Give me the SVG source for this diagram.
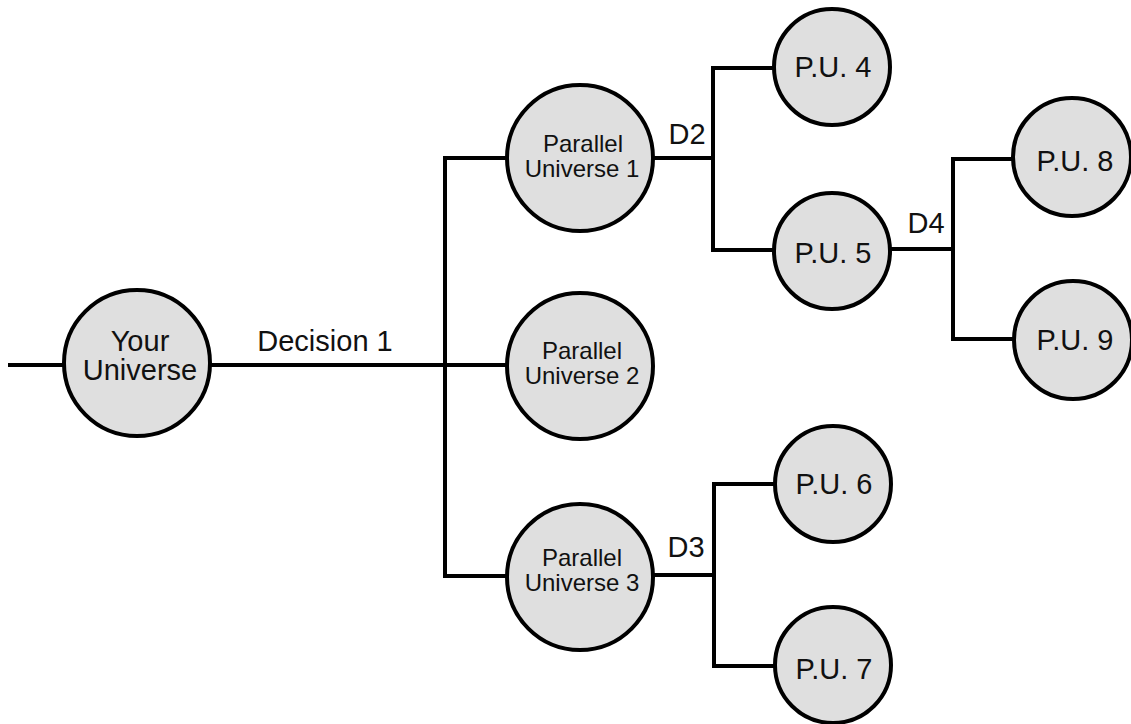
<svg xmlns="http://www.w3.org/2000/svg" width="1131" height="724" viewBox="0 0 1131 724">
<style>
.c{fill:#dfdfdf;stroke:#000;stroke-width:4}
.w{fill:none;stroke:#000;stroke-width:4;stroke-linecap:square}
text{font-family:"Liberation Sans",Arial,sans-serif;fill:#111;text-anchor:middle}
.b{font-size:24px}
.m{font-size:29px}
</style>
<rect width="1131" height="724" fill="#fff"/>
<g id="connectors">
<path class="w" d="M10,365 H70 M205,365 H510"/>
<path class="w" d="M445,158 V576 M445,158 H510 M445,576 H510"/>
<path class="w" d="M650,158 H713 M713,68 V250 M713,68 H780 M713,250 H780"/>
<path class="w" d="M650,575 H714 M714,484 V666 M714,484 H780 M714,666 H780"/>
<path class="w" d="M885,249 H953 M953,159 V339 M953,159 H1020 M953,339 H1020"/>
</g>
<g id="labels">
<text class="m" x="325" y="351">Decision 1</text>
<text class="m" x="687" y="144">D2</text>
<text class="m" x="686" y="557">D3</text>
<text class="m" x="926" y="233">D4</text>
</g>
<g id="your-universe"><circle class="c" cx="137" cy="363" r="73"/><text class="m" x="140" y="351">Your</text><text class="m" x="140" y="380">Universe</text></g>
<g id="pu1"><circle class="c" cx="580" cy="158" r="73"/><text class="b" x="583" y="152">Parallel</text><text class="b" x="582" y="177">Universe 1</text></g>
<g id="pu2"><circle class="c" cx="580" cy="366" r="73"/><text class="b" x="582" y="359">Parallel</text><text class="b" x="582" y="384">Universe 2</text></g>
<g id="pu3"><circle class="c" cx="580" cy="577" r="73"/><text class="b" x="582" y="566">Parallel</text><text class="b" x="582" y="591">Universe 3</text></g>
<g id="pu4"><circle class="c" cx="832" cy="67" r="58"/><text class="m" x="833" y="77">P.U. 4</text></g>
<g id="pu5"><circle class="c" cx="832" cy="251" r="58"/><text class="m" x="833" y="263">P.U. 5</text></g>
<g id="pu6"><circle class="c" cx="833" cy="484" r="58"/><text class="m" x="834" y="494">P.U. 6</text></g>
<g id="pu7"><circle class="c" cx="833" cy="665" r="58"/><text class="m" x="834" y="679">P.U. 7</text></g>
<g id="pu8"><circle class="c" cx="1072" cy="157" r="59"/><text class="m" x="1075" y="171">P.U. 8</text></g>
<g id="pu9"><circle class="c" cx="1073" cy="340" r="59"/><text class="m" x="1075" y="350">P.U. 9</text></g>
</svg>
